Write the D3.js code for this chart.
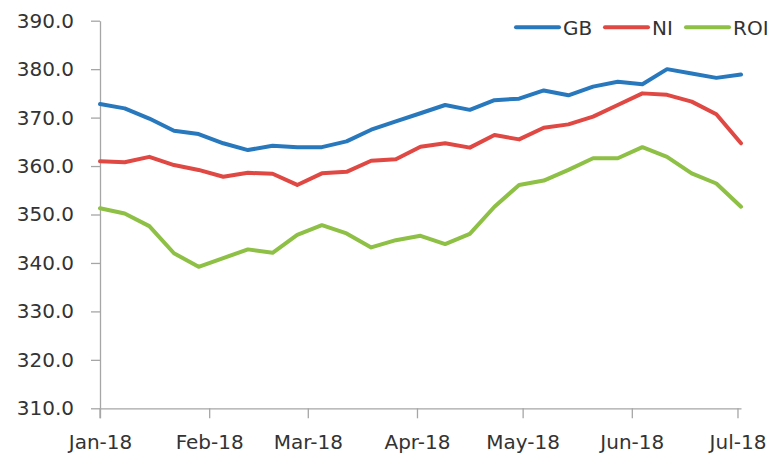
<!DOCTYPE html>
<html>
<head>
<meta charset="utf-8">
<script src="https://cdn.jsdelivr.net/npm/d3@7"></script>
<style>
  body { margin: 0; background: #fff; }
  text { font-family: "DejaVu Sans", sans-serif; fill: #333; }
</style>
</head>
<body>
<div id="chart"></div>
<script>
// weekly dates
var weeks = ["2018-01-01","2018-01-08","2018-01-15","2018-01-22","2018-01-29",
  "2018-02-05","2018-02-12","2018-02-19","2018-02-26",
  "2018-03-05","2018-03-12","2018-03-19","2018-03-26",
  "2018-04-02","2018-04-09","2018-04-16","2018-04-23","2018-04-30",
  "2018-05-07","2018-05-14","2018-05-21","2018-05-28",
  "2018-06-04","2018-06-11","2018-06-18","2018-06-25",
  "2018-07-02"];

var gb = [372.8, 371.9, 369.8, 367.3, 366.6, 364.7, 363.3, 364.2, 363.9, 363.9, 365.1, 367.5, 369.2, 370.9,
  372.6, 371.6, 373.6, 373.9, 375.6, 374.6, 376.4, 377.4, 376.9, 380.0, 379.1, 378.2, 378.9];
var ni = [361.0, 360.8, 361.9, 360.2, 359.2, 357.8, 358.6, 358.4, 356.1, 358.5, 358.8, 361.1, 361.4, 364.0,
  364.7, 363.8, 366.4, 365.5, 367.9, 368.6, 370.2, 372.6, 375.0, 374.7, 373.3, 370.7, 364.7];
var roi = [351.3, 350.2, 347.6, 342.0, 339.2, 341.0, 342.8, 342.1, 345.8, 347.8, 346.1, 343.2, 344.7, 345.6,
  343.9, 346.0, 351.6, 356.1, 357.0, 359.2, 361.6, 361.6, 363.9, 361.9, 358.5, 356.4, 351.6];

var seriesNames = ["GB", "NI", "ROI"];
var seriesColors = ["#2878be", "#e04843", "#8dc044"];
var yTicks = [310, 320, 330, 340, 350, 360, 370, 380, 390];

var parseDate = d3.timeParse("%Y-%m-%d");
var dates = weeks.map(parseDate);

var svg = d3.select("#chart")
  .append("svg")
  .attr("width", 772)
  .attr("height", 455);

var x = d3.scaleTime()
  .domain(d3.extent(dates))
  .range([100, 741]);

var y = d3.scaleLinear()
  .domain([310, 390])
  .range([408.3, 20.7]);

// y axis
var yAxis = svg.append("g")
  .attr("transform", "translate(100,0)")
  .call(d3.axisLeft(y)
    .tickValues(yTicks)
    .tickFormat(d3.format(".1f"))
    .tickSize(9)
    .tickSizeOuter(0)
    .tickPadding(17));

// x axis
var xAxis = svg.append("g")
  .attr("transform", "translate(0," + y(310) + ")")
  .call(d3.axisBottom(x)
    .ticks(d3.timeMonth.every(1))
    .tickFormat(d3.timeFormat("%b-%y"))
    .tickSize(10)
    .tickSizeOuter(0)
    .tickPadding(17));

// the Jan tick sits at the axis origin
xAxis.insert("line", ":first-child")
  .attr("x1", x(dates[0])).attr("x2", x(dates[0]))
  .attr("y1", 0).attr("y2", 10);

svg.selectAll(".domain, .tick line, g > line")
  .attr("stroke", "#a6a6a6")
  .attr("stroke-width", 1.3);

svg.selectAll(".tick text")
  .style("font-size", "20px")
  .attr("fill", "#333");

var line = d3.line()
  .x(function(d, i) { return x(dates[i]); })
  .y(function(d) { return y(d); });

var allSeries = [gb, ni, roi];

svg.selectAll(".series")
  .data(allSeries)
  .enter().append("path")
  .attr("class", "series")
  .attr("d", line)
  .attr("fill", "none")
  .attr("stroke", function(d, i) { return seriesColors[i]; })
  .attr("stroke-width", 4)
  .attr("stroke-linejoin", "round")
  .attr("stroke-linecap", "round");

// legend
var legendX = [516, 605, 686];
var legend = svg.selectAll(".legend")
  .data(seriesNames)
  .enter().append("g")
  .attr("class", "legend")
  .attr("transform", function(d, i) { return "translate(" + legendX[i] + ",27.3)"; });

legend.append("line")
  .attr("x1", 0).attr("x2", 43)
  .attr("y1", 0).attr("y2", 0)
  .attr("stroke", function(d, i) { return seriesColors[i]; })
  .attr("stroke-width", 4)
  .attr("stroke-linecap", "round");

legend.append("text")
  .attr("x", 47)
  .attr("dy", "0.36em")
  .style("font-size", "20px")
  .text(function(d) { return d; });
</script>
</body>
</html>
